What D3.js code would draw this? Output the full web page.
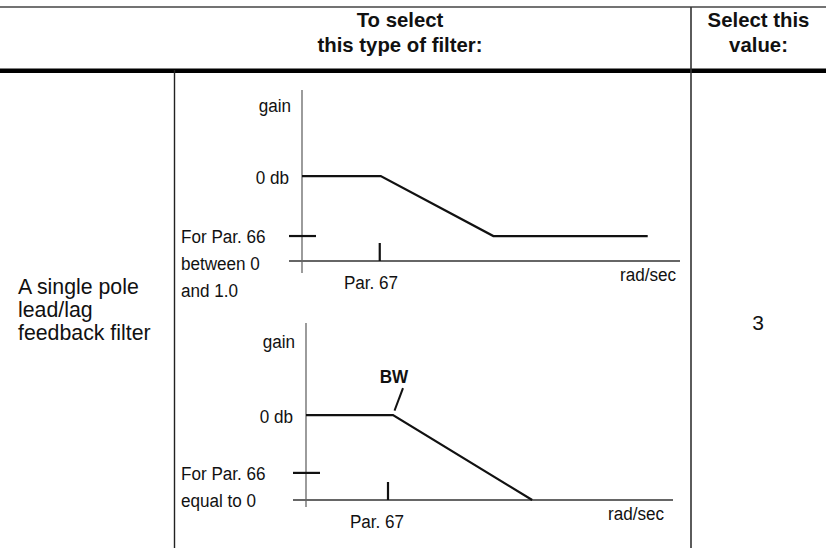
<!DOCTYPE html>
<html>
<head>
<meta charset="utf-8">
<script src="https://cdn.jsdelivr.net/npm/d3@7"></script>
<style>
  html, body { margin: 0; padding: 0; background: #fff; }
  svg { display: block; }
  text { font-family: "Liberation Sans", Arial, Helvetica, sans-serif; fill: #111; }
</style>
</head>
<body>
<svg id="chart" width="826" height="548"></svg>
<script>
// ---------------- data ----------------
const headerLeft = ["To select", "this type of filter:"];
const headerRight = ["Select this", "value:"];
const filterName = ["A single pole", "lead/lag", "feedback filter"];
const filterValue = "3";

// top chart: Par. 66 between 0 and 1.0 (lead/lag)
const topFreq = [0, 1.0, 2.43, 4.39];      // decades, Par. 67 = 1
const topGain = [0, 0, -28.6, -28.6];      // dB
const topLabels = ["For Par. 66", "between 0", "and 1.0"];

// bottom chart: Par. 66 equal to 0 (low pass)
const botFreq = [0, 1.0, 2.6];
const botGain = [0, 0, -42];
const botLabels = ["For Par. 66", "equal to 0"];

const yLabel = "gain";
const zeroLabel = "0 db";
const xLabel = "rad/sec";
const parLabel = "Par. 67";
const bwLabel = "BW";
const par66Level = -28.6;   // marker on gain axis
const par67Freq = 1.0;      // marker on frequency axis

// ---------------- drawing ----------------
const svg = d3.select("#chart");
svg.append("rect").attr("width", 826).attr("height", 548).attr("fill", "#fff");

function label(g, x, y, str, opts = {}) {
  return g.append("text")
    .attr("transform", `translate(${x},${y}) scale(${opts.sx || 1},1)`)
    .attr("text-anchor", opts.anchor || "start")
    .attr("dominant-baseline", "central")
    .style("font-size", (opts.size || 17) + "px")
    .style("font-weight", opts.bold ? "bold" : "normal")
    .text(str);
}

// table rules
svg.append("line").attr("x1", 0).attr("x2", 826).attr("y1", 7).attr("y2", 7)
  .attr("stroke", "#444").attr("stroke-width", 1.5);
svg.append("line").attr("x1", 0).attr("x2", 826).attr("y1", 70.8).attr("y2", 70.8)
  .attr("stroke", "#000").attr("stroke-width", 4.4);
svg.append("line").attr("x1", 691).attr("x2", 691).attr("y1", 7).attr("y2", 548)
  .attr("stroke", "#333").attr("stroke-width", 1.6);
svg.append("line").attr("x1", 174.5).attr("x2", 174.5).attr("y1", 70).attr("y2", 548)
  .attr("stroke", "#222").attr("stroke-width", 1.4);

// header
const HS = {anchor: "middle", bold: true, size: 21, sx: 0.97};
headerLeft.forEach((s, i) => label(svg, 400, 19 + i * 25, s, HS));
headerRight.forEach((s, i) => label(svg, 758.5, 19 + i * 25, s, HS));

// left column + value
filterName.forEach((s, i) => label(svg, 18, 287 + i * 23, s, {size: 21.3}));
label(svg, 758, 322, filterValue, {anchor: "middle", size: 21});

const LS = {size: 19, sx: 0.9};
function drawPanel(cfg) {
  const g = svg.append("g");
  const x = d3.scaleLinear().domain(cfg.xDomain).range(cfg.xRange);
  const y = d3.scaleLinear().domain(cfg.yDomain).range(cfg.yRange);
  const x0 = x(0), yAxis = y(cfg.yDomain[0]);

  // frequency axis
  g.append("line").attr("x1", x0 - 13).attr("x2", cfg.xAxisEnd)
    .attr("y1", yAxis).attr("y2", yAxis).attr("stroke", "#333").attr("stroke-width", 1.3);
  // gain axis
  g.append("line").attr("x1", x0).attr("x2", x0)
    .attr("y1", y(cfg.yDomain[1])).attr("y2", yAxis + cfg.yExt).attr("stroke", "#666").attr("stroke-width", 1.3);

  // Par. 66 marker on gain axis
  g.append("line").attr("x1", x0 - 13).attr("x2", x0 + 14)
    .attr("y1", y(par66Level)).attr("y2", y(par66Level)).attr("stroke", "#111").attr("stroke-width", 2.2);
  // Par. 67 marker on frequency axis
  g.append("line").attr("x1", x(par67Freq) + cfg.tickShift).attr("x2", x(par67Freq) + cfg.tickShift)
    .attr("y1", yAxis - 18).attr("y2", yAxis).attr("stroke", "#111").attr("stroke-width", 2.2);

  // response curve
  const line = d3.line().x((d, i) => x(cfg.freq[i])).y((d, i) => y(cfg.gain[i]));
  g.append("path").datum(cfg.freq).attr("d", line)
    .attr("fill", "none").attr("stroke", "#111").attr("stroke-width", 2.2)
    .attr("stroke-linejoin", "miter");

  // labels
  label(g, x0 - 11, y(cfg.yDomain[1]) + cfg.gainDy, yLabel, {...LS, anchor: "end"});
  label(g, x0 - 13, y(0) + 2, zeroLabel, {...LS, anchor: "end"});
  cfg.sideLabels.forEach((s, i) => label(g, 181, y(par66Level) + 1 + i * cfg.sideStep, s, LS));
  label(g, cfg.parX, yAxis + 22, parLabel, {...LS, anchor: "middle"});
  label(g, cfg.xAxisEnd - cfg.radInset, yAxis + 14, xLabel, {...LS, anchor: "end"});
  return {g, x, y};
}

drawPanel({
  xDomain: [0, 4.8], xRange: [302, 680], xAxisEnd: 680, yExt: 12,
  yDomain: [-40.5, 41], yRange: [261, 90], gainDy: 16,
  freq: topFreq, gain: topGain, sideLabels: topLabels, sideStep: 27,
  parX: 371, tickShift: -1, radInset: 4
});

const bot = drawPanel({
  xDomain: [0, 4.8], xRange: [306, 723.6], xAxisEnd: 673, yExt: 7,
  yDomain: [-42, 45.5], yRange: [500, 323], gainDy: 19,
  freq: botFreq, gain: botGain, sideLabels: botLabels, sideStep: 27,
  parX: 377, tickShift: -5, radInset: 9
});
// BW pointer
const bwX = bot.x(par67Freq), bwY = bot.y(0);
bot.g.append("line").attr("x1", bwX + 1.5).attr("y1", bwY - 4.5).attr("x2", bwX + 10).attr("y2", bwY - 27)
  .attr("stroke", "#111").attr("stroke-width", 2);
label(bot.g, bwX + 1, bwY - 38, bwLabel, {anchor: "middle", bold: true, size: 19, sx: 0.9});
</script>
</body>
</html>
